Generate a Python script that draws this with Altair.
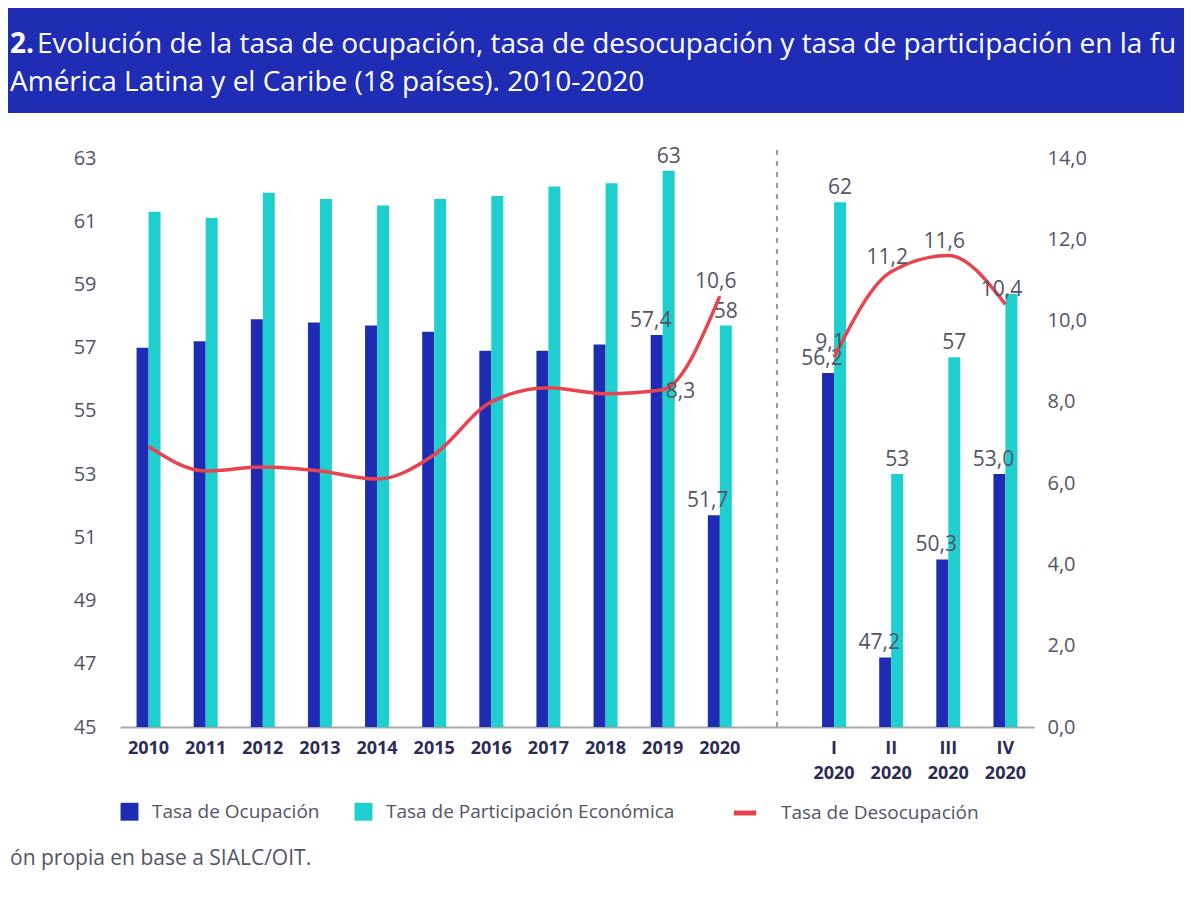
import altair as alt
import pandas as pd

# ---------------- data ----------------
categorias = ["2010", "2011", "2012", "2013", "2014", "2015", "2016", "2017",
              "2018", "2019", "2020", " ", "I 2020", "II 2020", "III 2020", "IV 2020"]
periodos = ["2010", "2011", "2012", "2013", "2014", "2015", "2016", "2017",
            "2018", "2019", "2020", "I 2020", "II 2020", "III 2020", "IV 2020"]
grupos = ["anual"] * 11 + ["trimestral"] * 4

tasa_ocupacion = [57.0, 57.2, 57.9, 57.8, 57.7, 57.5, 56.9, 56.9, 57.1, 57.4, 51.7,
                  56.2, 47.2, 50.3, 53.0]
tasa_participacion = [61.3, 61.1, 61.9, 61.7, 61.5, 61.7, 61.8, 62.1, 62.2, 62.6, 57.7,
                      61.6, 53.0, 56.7, 58.7]
tasa_desocupacion = [6.9, 6.3, 6.4, 6.3, 6.1, 6.7, 8.0, 8.35, 8.2, 8.3, 10.6,
                     9.1, 11.2, 11.6, 10.4]

con_etiqueta_ocupacion = ["2019", "2020", "I 2020", "II 2020", "III 2020", "IV 2020"]
con_etiqueta_participacion = ["2019", "2020", "I 2020", "II 2020", "III 2020"]
con_etiqueta_desocupacion = ["2019", "2020", "I 2020", "II 2020", "III 2020", "IV 2020"]

S_OCU = "Tasa de Ocupación"
S_PAR = "Tasa de Participación Económica"
S_DES = "Tasa de Desocupación"
series_barras = [S_OCU, S_PAR]

titulo_1a = "2."
titulo_1b = "Evolución de la tasa de ocupación, tasa de desocupación y tasa de participación en la fu"
titulo_2 = "América Latina y el Caribe (18 países). 2010-2020"
fuente = "ón propia en base a SIALC/OIT."

ticks_izq = [45, 47, 49, 51, 53, 55, 57, 59, 61, 63]
ticks_der = [0, 2, 4, 6, 8, 10, 12, 14]

# ---------------- tables ----------------
def coma(v, d):
    return f"{v:.{d}f}".replace(".", ",")

filas = []
for p, o, t in zip(periodos, tasa_ocupacion, tasa_participacion):
    filas.append({"periodo": p, "serie": S_OCU, "valor": o,
                  "etiqueta": coma(o, 1) if p in con_etiqueta_ocupacion else ""})
    filas.append({"periodo": p, "serie": S_PAR, "valor": t,
                  "etiqueta": coma(t, 0) if p in con_etiqueta_participacion else ""})
barras_df = pd.DataFrame(filas)

linea_df = pd.DataFrame({
    "periodo": periodos,
    "valor": tasa_desocupacion,
    "grupo": grupos,
    "serie": [S_DES] * len(periodos),
    "etiqueta": [coma(v, 1) if p in con_etiqueta_desocupacion else ""
                 for p, v in zip(periodos, tasa_desocupacion)],
})

# ---------------- style ----------------
FONT = "Open Sans"
AZUL = "#1d2cb3"
CIAN = "#1fcfd0"
ROJO = "#e8434e"
BANNER = "#1f2db5"
GRIS = "#545464"

W, H = 914, 569

x_scale = alt.Scale(domain=categorias, paddingInner=0.58, paddingOuter=0.29)
x_axis = alt.Axis(title=None, labelExpr="split(datum.label, ' ')", labelFont=FONT,
                  labelFontWeight="bold", labelFontSize=18, labelColor="#2c2c55",
                  labelPadding=12, labelLineHeight=25, domainColor="#a8a8a8",
                  domainWidth=2, ticks=False, labelAngle=0, grid=False)
yl_axis = alt.Axis(title=None, values=ticks_izq, labelFont=FONT, labelFontSize=20,
                   labelColor=GRIS, labelPadding=24, domain=False, ticks=False,
                   grid=False, orient="left")
yr_axis = alt.Axis(title=None, values=ticks_der, orient="right",
                   labelExpr="replace(format(datum.value, '.1f'), '.', ',')",
                   labelFont=FONT, labelFontSize=20, labelColor=GRIS,
                   labelPadding=13, domain=False, ticks=False, grid=False)
xo_scale = alt.Scale(domain=series_barras, paddingInner=0, paddingOuter=0)
yl_scale = alt.Scale(domain=[45, 63], nice=False, zero=False)
yr_scale = alt.Scale(domain=[0, 14], nice=False, zero=False)

X = alt.X("periodo:N", scale=x_scale, axis=x_axis)
YL = alt.Y("valor:Q", scale=yl_scale, axis=yl_axis)
YR = alt.Y("valor:Q", scale=yr_scale, axis=yr_axis)
XO = alt.XOffset("serie:N", scale=xo_scale)

# ---------------- bars (left axis) ----------------
barras = alt.Chart(barras_df).mark_bar().encode(
    x=X,
    xOffset=XO,
    y=YL,
    y2=alt.Y2(datum=45),
    color=alt.Color("serie:N", scale=alt.Scale(domain=series_barras, range=[AZUL, CIAN]),
                    legend=alt.Legend(orient="none", legendX=0, legendY=644,
                                      direction="horizontal", title=None,
                                      symbolType="square", symbolSize=320,
                                      symbolStrokeWidth=0, labelFont=FONT,
                                      labelFontSize=19, labelColor=GRIS,
                                      labelOffset=13, columnPadding=34,
                                      labelLimit=500, padding=0)),
)

etq_ocu = alt.Chart(barras_df).transform_filter(
    (alt.datum.serie == S_OCU) & (alt.datum.etiqueta != "")
).mark_text(font=FONT, fontSize=21, color=GRIS, dx=-6, dy=-8, baseline="alphabetic").encode(
    x=X, xOffset=XO, y=YL, text="etiqueta:N",
)

etq_par = alt.Chart(barras_df).transform_filter(
    (alt.datum.serie == S_PAR) & (alt.datum.etiqueta != "")
).mark_text(font=FONT, fontSize=21, color=GRIS, dx=0, dy=-8, baseline="alphabetic").encode(
    x=X, xOffset=XO, y=YL, text="etiqueta:N",
)

izquierda = alt.layer(barras, etq_ocu, etq_par)

# ---------------- line (right axis) ----------------
linea = alt.Chart(linea_df).mark_line(interpolate="monotone", strokeWidth=3.5).encode(
    x=X,
    y=YR,
    detail="grupo:N",
    stroke=alt.Stroke("serie:N", scale=alt.Scale(domain=[S_DES], range=[ROJO]),
                      legend=alt.Legend(orient="none", legendX=611, legendY=641,
                                        title=None, symbolType="stroke",
                                        symbolSize=500, symbolStrokeWidth=5,
                                        labelFont=FONT, labelFontSize=19,
                                        labelColor=GRIS, labelOffset=22,
                                        labelLimit=500, padding=0)),
)

etq_des = alt.Chart(linea_df).transform_filter(
    (alt.datum.etiqueta != "") & (alt.datum.periodo != "2019")
).mark_text(font=FONT, fontSize=21, color=GRIS, dx=-4, dy=-8, baseline="alphabetic").encode(
    x=X, y=YR, text="etiqueta:N",
)

etq_des_2019 = alt.Chart(linea_df).transform_filter(
    alt.datum.periodo == "2019"
).mark_text(font=FONT, fontSize=21, color=GRIS, dx=3, dy=2, align="left",
            baseline="middle").encode(
    x=X, y=YR, text="etiqueta:N",
)

derecha = alt.layer(linea, etq_des, etq_des_2019)

# ---------------- decorations ----------------
uno = pd.DataFrame({"k": [0]})

banner = alt.Chart(uno).mark_rect(color=BANNER).encode(
    x=alt.value(-112), x2=alt.value(1064), y=alt.value(-150), y2=alt.value(-45))

t1a = alt.Chart(uno).mark_text(text=titulo_1a, font=FONT, fontSize=28, fontWeight="bold",
                               color="white", align="left", baseline="alphabetic").encode(
    x=alt.value(-110), y=alt.value(-105))
t1b = alt.Chart(uno).mark_text(text=titulo_1b, font=FONT, fontSize=28, color="white",
                               align="left", baseline="alphabetic").encode(
    x=alt.value(-83), y=alt.value(-105))
t2 = alt.Chart(uno).mark_text(text=titulo_2, font=FONT, fontSize=28, color="white",
                              align="left", baseline="alphabetic").encode(
    x=alt.value(-110), y=alt.value(-67))
pie = alt.Chart(uno).mark_text(text=fuente, font=FONT, fontSize=21, color=GRIS,
                               align="left", baseline="alphabetic").encode(
    x=alt.value(-110), y=alt.value(707))

divisor = alt.Chart(pd.DataFrame({"periodo": [" "]})).mark_rule(
    color="#9a9a9a", strokeWidth=2, strokeDash=[5, 6]).encode(
    x=X, y=alt.value(-8), y2=alt.value(H))

chart = alt.layer(banner, t1a, t1b, t2, pie, divisor, izquierda, derecha).resolve_scale(
    y="independent", color="independent", stroke="independent"
).properties(
    width=W, height=H,
    autosize=alt.AutoSizeParams(type="none"),
    padding={"left": 112, "top": 150, "right": 150, "bottom": 160},
    background="white",
).configure_view(stroke=None)

chart.save("out.html", embed_options={"renderer": "svg", "actions": False})
